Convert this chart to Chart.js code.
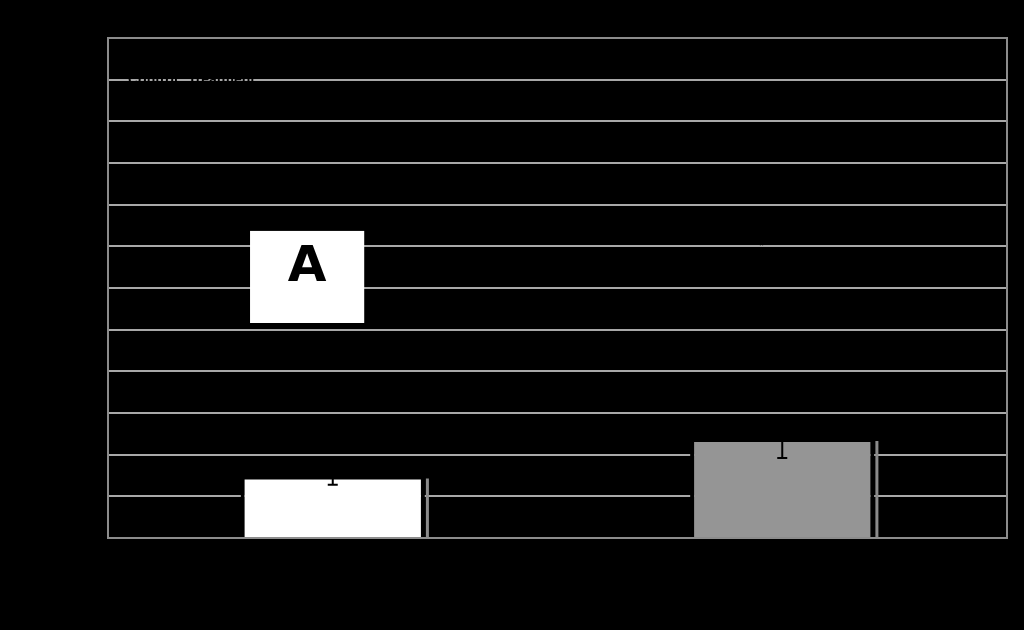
<!DOCTYPE html>
<html>
<head>
<meta charset="utf-8">
<script src="https://cdn.jsdelivr.net/npm/chart.js@4/dist/chart.umd.min.js"></script>
<style>
  html, body { margin: 0; padding: 0; background: #000; overflow: hidden; }
  canvas { display: block; }
</style>
</head>
<body>
<canvas id="chart" width="1024" height="630"></canvas>
<script>
const categories = ["Control", "Treatment"];
const values = [1.5, 2.4];
const errors = [0.22, 0.48];
const barColors = ["#ffffff", "#959595"];
const yTicks = [0, 1, 2, 3, 4, 5, 6, 7, 8, 9, 10, 11, 12];

// grey frame, shadow line on bars, error bars, and the "A" panel label
const extras = {
    id: "extras",
    afterDatasetsDraw(chart) {
        const ctx = chart.ctx;
        const y = chart.scales.y;
        const area = chart.chartArea;
        const meta = chart.getDatasetMeta(0);

        ctx.save();
        meta.data.forEach((bar, i) => {
            const right = bar.x + bar.width / 2;
            ctx.fillStyle = "#8a8a8a";
            ctx.fillRect(right + 1, bar.y + 3, 3, bar.base - bar.y - 3);

            const hi = y.getPixelForValue(values[i] + errors[i]);
            const lo = y.getPixelForValue(values[i] - errors[i]);
            ctx.strokeStyle = "#000";
            ctx.lineWidth = 2;
            ctx.beginPath();
            ctx.moveTo(bar.x, hi);
            ctx.lineTo(bar.x, lo);
            ctx.moveTo(bar.x - 5, lo);
            ctx.lineTo(bar.x + 5, lo);
            ctx.moveTo(bar.x - 5, hi);
            ctx.lineTo(bar.x + 5, hi);
            ctx.stroke();
        });

        ctx.strokeStyle = "#8c8c8c";
        ctx.lineWidth = 2;
        ctx.strokeRect(area.left, area.top, area.right - area.left, area.bottom - area.top);

        // panel label box
        const w = area.right - area.left;
        const bx = area.left + w * 0.158;
        const bw = w * 0.127;
        const top = y.getPixelForValue(7.37);
        const bot = y.getPixelForValue(5.16);
        ctx.fillStyle = "#fff";
        ctx.fillRect(bx, top, bw, bot - top);
        ctx.fillStyle = "#000";
        ctx.font = "bold 50px 'DejaVu Sans', Verdana, sans-serif";
        ctx.textAlign = "center";
        ctx.textBaseline = "middle";
        ctx.fillText("A", bx + bw / 2, (top + bot) / 2 - 9);

        // black labels (invisible on black, as in the original)
        ctx.font = "bold 14px 'Liberation Sans', Arial, sans-serif";
        ctx.fillText("*", area.left + w * 0.727, y.getPixelForValue(7));
        ctx.textAlign = "left";
        ctx.fillText("Control", area.left + 20, y.getPixelForValue(11));
        ctx.fillText("Treatment", area.left + 80, y.getPixelForValue(11));
        ctx.restore();
    }
};

new Chart(document.getElementById("chart"), {
    type: "bar",
    data: {
        labels: categories,
        datasets: [{
            data: values,
            backgroundColor: barColors,
            borderColor: "#000",
            borderWidth: 4,
            borderSkipped: "bottom",
            barPercentage: 0.41,
            categoryPercentage: 1
        }]
    },
    options: {
        responsive: false,
        animation: false,
        devicePixelRatio: 1,
        layout: { padding: { top: 38, right: 17, left: 0, bottom: 0 } },
        plugins: {
            legend: { display: false },
            tooltip: { enabled: false }
        },
        scales: {
            x: {
                grid: { display: false },
                border: { color: "#8c8c8c", width: 2 },
                ticks: { color: "#000", font: { size: 16 } },
                afterFit(scale) { scale.height = 92; }
            },
            y: {
                min: 0,
                max: 12,
                grid: { color: "#a8a8a8", lineWidth: 2, drawTicks: false },
                border: { color: "#8c8c8c", width: 2 },
                ticks: {
                    stepSize: 1,
                    color: "#000",
                    font: { size: 16 },
                    callback: (v) => yTicks.includes(v) ? v : ""
                },
                afterFit(scale) { scale.width = 108; }
            }
        }
    },
    plugins: [extras]
});
</script>
</body>
</html>
